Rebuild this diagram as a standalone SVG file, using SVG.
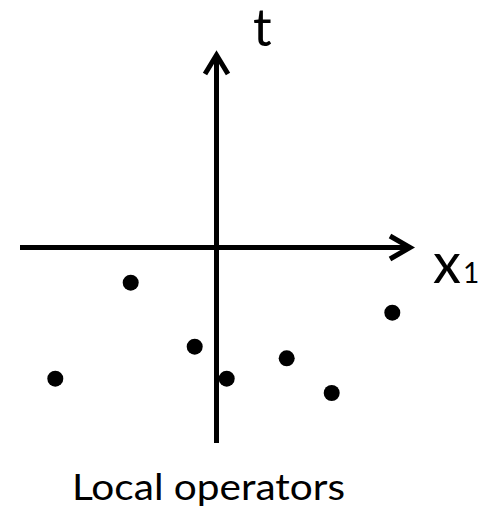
<svg xmlns="http://www.w3.org/2000/svg" width="481" height="509" viewBox="0 0 481 509">
<style>
.ax{stroke:#000;stroke-width:5;fill:none}
.hd{stroke:#000;stroke-width:5;fill:none;stroke-linejoin:miter;stroke-miterlimit:10}
.pt{fill:#000}
.lb{font-family:Lato,"Open Sans",sans-serif;fill:#000}
</style>
<rect width="481" height="509" fill="#fff"/>
<g id="connectors">
<line class="ax" x1="216.5" y1="443" x2="216.5" y2="56"/>
<polyline class="hd" points="205,74 216.5,55 228,74"/>
<line class="ax" x1="20" y1="247.5" x2="408" y2="247.5"/>
<polyline class="hd" points="390,236 410,247.5 390,259"/>
</g>
<g id="label-t"><text class="lb" x="253" y="46" font-size="52">t</text></g>
<g id="label-x1"><text class="lb" x="433" y="283" font-size="56">x<tspan font-size="28" dx="2">1</tspan></text></g>
<g id="points">
<circle class="pt" cx="130.7" cy="282.7" r="8"/>
<circle class="pt" cx="392.3" cy="312.7" r="8"/>
<circle class="pt" cx="194.7" cy="346.7" r="8"/>
<circle class="pt" cx="286.7" cy="358.3" r="8"/>
<circle class="pt" cx="55.3" cy="378.7" r="8"/>
<circle class="pt" cx="226.7" cy="378.7" r="8"/>
<circle class="pt" cx="331.7" cy="393" r="8"/>
</g>
<g id="caption"><text class="lb" x="72" y="500" font-size="36" textLength="273" lengthAdjust="spacingAndGlyphs">Local operators</text></g>
</svg>
